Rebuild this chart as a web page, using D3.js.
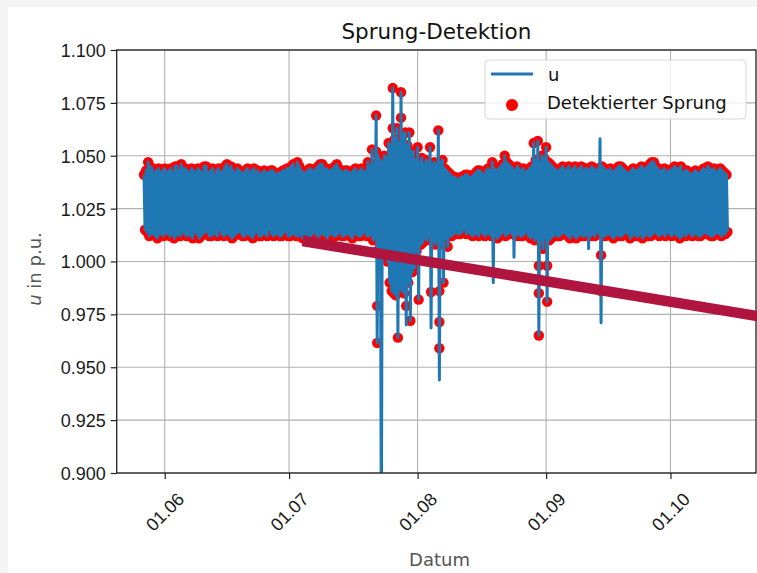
<!DOCTYPE html>
<html>
<head>
<meta charset="utf-8">
<script src="https://cdn.jsdelivr.net/npm/d3@7"></script>
<style>
body { margin: 0; background: #f4f4f4; }
svg { display: block; font-family: "DejaVu Sans", sans-serif; }
</style>
</head>
<body>
<svg id="chart"></svg>
<script>
// day 0 = 27.05., four readings per day: high, low, high2, low2 (every 6 h)
var startDay = "2021-05-27T00:00"

var highs = [
1.041,1.047,1.044,1.043,1.042,1.044,1.043,1.042,1.045,1.046,
1.044,1.042,1.043,1.044,1.042,1.045,1.043,1.041,1.044,1.043,
1.046,1.045,1.042,1.043,1.042,1.044,1.043,1.042,1.041,1.043,
1.042,1.043,1.041,1.042,1.043,1.044,1.046,1.047,1.043,1.042,
1.044,1.043,1.045,1.046,1.044,1.043,1.045,1.044,1.042,1.043,
1.042,1.044,1.043,1.042,1.047,1.053,1.069,1.048,1.050,1.056,
1.082,1.063,1.080,1.061,1.061,1.052,1.054,1.049,1.048,1.054,
1.047,1.062,1.048,1.043,1.041,1.040,1.039,1.040,1.041,1.040,
1.042,1.043,1.041,1.044,1.047,1.043,1.045,1.050,1.046,1.044,
1.045,1.043,1.042,1.044,1.056,1.057,1.050,1.054,1.046,1.044,
1.043,1.045,1.044,1.043,1.045,1.044,1.043,1.044,1.045,1.043,
1.058,1.044,1.043,1.042,1.044,1.045,1.043,1.042,1.044,1.043,
1.045,1.044,1.046,1.047,1.044,1.043,1.042,1.043,1.045,1.044,
1.042,1.043,1.041,1.043,1.042,1.044,1.045,1.043,1.042,1.044,
1.042]

var lows = [
1.015,1.012,1.013,1.011,1.013,1.014,1.012,1.011,1.013,1.014,
1.012,1.012,1.014,1.011,1.013,1.014,1.012,1.013,1.015,1.012,
1.013,1.011,1.013,1.014,1.012,1.013,1.011,1.014,1.012,1.013,
1.015,1.012,1.013,1.012,1.014,1.012,1.013,1.012,1.011,1.013,
1.012,1.014,1.012,1.013,1.011,1.013,1.012,1.014,1.012,1.013,
1.011,1.013,1.012,1.014,1.012,1.010,0.9615,0.870,1.005,0.990,
0.985,0.964,0.986,0.970,0.972,0.997,0.982,1.009,1.010,0.9686,
1.008,0.944,0.990,1.007,1.012,1.014,1.013,1.015,1.014,1.012,
1.013,1.014,1.012,1.013,0.990,1.011,1.013,1.012,1.014,1.002,
1.013,1.012,1.014,1.011,1.010,0.965,1.006,0.981,1.011,1.013,
1.012,1.014,1.012,1.013,1.011,1.013,1.012,1.006,1.013,1.014,
0.971,1.012,1.013,1.011,1.013,1.012,1.014,1.011,1.013,1.012,
1.011,1.013,1.012,1.014,1.012,1.013,1.014,1.012,1.013,1.011,
1.013,1.014,1.012,1.013,1.012,1.014,1.013,1.012,1.014,1.012,
1.013]

var highs2 = [
1.043,1.045,1.042,1.044,1.043,1.042,1.044,1.045,1.043,1.044,
1.043,1.044,1.042,1.043,1.045,1.042,1.044,1.043,1.042,1.045,
1.044,1.043,1.044,1.042,1.043,1.042,1.044,1.043,1.042,1.042,
1.043,1.042,1.042,1.043,1.044,1.045,1.044,1.045,1.042,1.043,
1.043,1.044,1.046,1.044,1.043,1.044,1.046,1.043,1.043,1.042,
1.043,1.042,1.044,1.043,1.045,1.046,1.050,1.047,1.049,1.055,
1.058,1.056,1.060,1.055,1.052,1.048,1.047,1.046,1.047,1.046,
1.046,1.047,1.044,1.042,1.040,1.039,1.040,1.041,1.040,1.041,
1.043,1.042,1.043,1.043,1.044,1.044,1.046,1.047,1.045,1.043,
1.044,1.044,1.043,1.045,1.048,1.047,1.049,1.047,1.045,1.043,
1.044,1.043,1.045,1.044,1.043,1.045,1.044,1.043,1.044,1.044,
1.045,1.043,1.044,1.043,1.045,1.044,1.042,1.043,1.043,1.044,
1.044,1.045,1.047,1.045,1.043,1.044,1.043,1.044,1.044,1.045,
1.043,1.042,1.042,1.042,1.043,1.043,1.044,1.044,1.043,1.043,
1.041]

var lows2 = [
1.014,1.013,1.012,1.013,1.012,1.013,1.013,1.012,1.012,1.013,
1.013,1.011,1.013,1.012,1.014,1.012,1.013,1.012,1.013,1.013,
1.012,1.012,1.014,1.012,1.013,1.012,1.013,1.012,1.013,1.012,
1.013,1.013,1.012,1.014,1.012,1.013,1.012,1.013,1.013,1.012,
1.013,1.012,1.013,1.012,1.013,1.012,1.013,1.012,1.013,1.012,
1.013,1.012,1.013,1.012,1.013,1.011,1.009,1.005,1.000,0.986,
0.984,0.987,0.985,0.990,0.995,1.005,1.008,1.011,1.012,1.010,
1.010,1.008,1.011,1.012,1.013,1.013,1.014,1.013,1.013,1.013,
1.012,1.013,1.013,1.012,1.012,1.012,1.014,1.013,1.013,1.012,
1.012,1.013,1.012,1.012,1.011,1.010,1.011,1.010,1.012,1.012,
1.013,1.013,1.011,1.012,1.012,1.012,1.013,1.012,1.012,1.013,
1.012,1.013,1.012,1.012,1.012,1.013,1.013,1.012,1.012,1.013,
1.012,1.012,1.013,1.013,1.013,1.012,1.013,1.013,1.012,1.012,
1.012,1.013,1.013,1.012,1.013,1.013,1.012,1.013,1.013,1.013,
1.014]

// spike ends (first reading pair) that were not marked as jump
var notDetectedHigh = [110]
var notDetectedLow = [57, 63, 69, 71, 84, 89, 107, 110]

// further detected jumps inside the spikes
var extraDays = [56, 56.25, 56.25, 60, 62, 63.25, 69.25, 71.25, 71.25, 71.25, 95.25, 95.25, 97.25, 110.25, 110.25]
var extraValues = [1.052, 1.005, 0.979, 1.063, 1.068, 0.979, 0.9856, 0.986, 0.9714, 0.959, 0.998, 0.985, 0.998, 1.003, 0.986]

// the drawn over line
var trendDates = ["2021-07-04T06:00", "2021-10-22T00:00"]
var trendValues = [1.0097, 0.9742]

var xDomain = ["2021-05-20T10:00", "2021-10-21T15:00"]
var yTicks = [0.900, 0.925, 0.950, 0.975, 1.000, 1.025, 1.050, 1.075, 1.100]

var W = 757, H = 573
var margin = {top: 50, right: 1, bottom: 100, left: 116.7}
var width = W - margin.left - margin.right
var height = H - margin.top - margin.bottom

var t0 = new Date(startDay).getTime()
function dayDate(d){ return new Date(t0 + d * 864e5) }

// line points and jump points
var linePts = []
var dots = []
highs.forEach(function(h, i){
  linePts.push([dayDate(i), h])
  linePts.push([dayDate(i + 0.25), lows[i]])
  linePts.push([dayDate(i + 0.5), highs2[i]])
  linePts.push([dayDate(i + 0.75), lows2[i]])
  if (notDetectedHigh.indexOf(i) < 0) dots.push([dayDate(i), h])
  if (notDetectedLow.indexOf(i) < 0) dots.push([dayDate(i + 0.25), lows[i]])
  dots.push([dayDate(i + 0.5), highs2[i]])
  dots.push([dayDate(i + 0.75), lows2[i]])
})
extraDays.forEach(function(d, i){ dots.push([dayDate(d), extraValues[i]]) })

var xScale = d3.scaleTime().domain(xDomain.map(function(s){ return new Date(s) })).range([0, width])
var yScale = d3.scaleLinear().domain([0.9, 1.1]).range([height, 0])

var svg = d3.select("#chart").attr("width", W).attr("height", H)

// white figure area (screenshot has a grey edge top/left)
svg.append("rect").attr("x", 8).attr("y", 7).attr("width", W - 8).attr("height", H - 7).attr("fill", "#fff")

var g = svg.append("g").attr("transform", "translate(" + margin.left + "," + margin.top + ")")

g.append("clipPath").attr("id", "clip").append("rect").attr("width", width).attr("height", height)

// grid
var xTicks = xScale.ticks(d3.timeMonth.every(1))
g.append("g").selectAll("line").data(xTicks).enter().append("line")
  .attr("x1", function(d){ return xScale(d) }).attr("x2", function(d){ return xScale(d) })
  .attr("y1", 0).attr("y2", height)
  .attr("stroke", "#b0b0b0").attr("stroke-width", 1.1)
g.append("g").selectAll("line").data(yTicks).enter().append("line")
  .attr("y1", function(d){ return yScale(d) }).attr("y2", function(d){ return yScale(d) })
  .attr("x1", 0).attr("x2", width)
  .attr("stroke", "#b0b0b0").attr("stroke-width", 1.1)

var plot = g.append("g").attr("clip-path", "url(#clip)")

// scatter under the line like matplotlib
plot.append("g").selectAll("circle").data(dots).enter().append("circle")
  .attr("cx", function(d){ return xScale(d[0]) })
  .attr("cy", function(d){ return yScale(d[1]) })
  .attr("r", 5.2)
  .attr("fill", "#ff0000")

var line = d3.line().x(function(d){ return xScale(d[0]) }).y(function(d){ return yScale(d[1]) })
plot.append("path").datum(linePts)
  .attr("d", line)
  .attr("fill", "none")
  .attr("stroke", "#1f77b4")
  .attr("stroke-width", 3)
  .attr("stroke-linejoin", "round")

// axes
var xAxis = d3.axisBottom(xScale).tickValues(xTicks).tickFormat(d3.timeFormat("%d.%m")).tickSizeOuter(0).tickSize(6).tickPadding(4)
var yAxis = d3.axisLeft(yScale).tickValues(yTicks).tickFormat(d3.format(".3f")).tickSizeOuter(0).tickSize(6).tickPadding(5)

var gx = g.append("g").attr("transform", "translate(0," + height + ")").call(xAxis)
gx.select(".domain").remove()
gx.selectAll("line").attr("stroke", "#222").attr("stroke-width", 1.2)
gx.selectAll("text")
  .attr("font-size", 18).attr("fill", "#1a1a1a")
  .attr("text-anchor", "middle").attr("dy", null).attr("y", 0)
  .attr("transform", "translate(0,39) rotate(-45)")
  .attr("dominant-baseline", "central")

var gy = g.append("g").call(yAxis)
gy.select(".domain").remove()
gy.selectAll("line").attr("stroke", "#222").attr("stroke-width", 1.2)
gy.selectAll("text").attr("font-size", 18).attr("fill", "#1a1a1a").attr("dy", "0.36em")

// spines
g.append("rect").attr("width", width).attr("height", height)
  .attr("fill", "none").attr("stroke", "#222").attr("stroke-width", 1.3)

// titles
svg.append("text").attr("x", margin.left + width / 2).attr("y", 38.5)
  .attr("text-anchor", "middle").attr("font-size", 21.5).attr("fill", "#111")
  .text("Sprung-Detektion")

svg.append("text").attr("x", 439.5).attr("y", 566)
  .attr("text-anchor", "middle").attr("font-size", 18).attr("fill", "#555")
  .text("Datum")

var yl = svg.append("text").attr("transform", "translate(41,269) rotate(-90)")
  .attr("text-anchor", "middle").attr("font-size", 18).attr("fill", "#555")
yl.append("tspan").attr("font-style", "italic").text("u")
yl.append("tspan").text(" in p.u.")

// legend
var lg = svg.append("g").attr("transform", "translate(485,60)")
lg.append("rect").attr("width", 261).attr("height", 59).attr("rx", 4)
  .attr("fill", "#fff").attr("fill-opacity", 0.8).attr("stroke", "#d6d6d6").attr("stroke-width", 1)
lg.append("line").attr("x1", 6).attr("x2", 48).attr("y1", 14).attr("y2", 14)
  .attr("stroke", "#1f77b4").attr("stroke-width", 3)
lg.append("text").attr("x", 63).attr("y", 21).attr("font-size", 18).attr("fill", "#111").text("u")
lg.append("circle").attr("cx", 27).attr("cy", 45).attr("r", 6).attr("fill", "#ff0000")
lg.append("text").attr("x", 62).attr("y", 48.5).attr("font-size", 18).attr("fill", "#111").text("Detektierter Sprung")

// crimson stroke drawn over the chart
g.append("path").datum(trendDates.map(function(s, i){ return [new Date(s), trendValues[i]] }))
  .attr("d", line)
  .attr("stroke", "#b01540").attr("stroke-width", 10.5).attr("fill", "none")
</script>
</body>
</html>
